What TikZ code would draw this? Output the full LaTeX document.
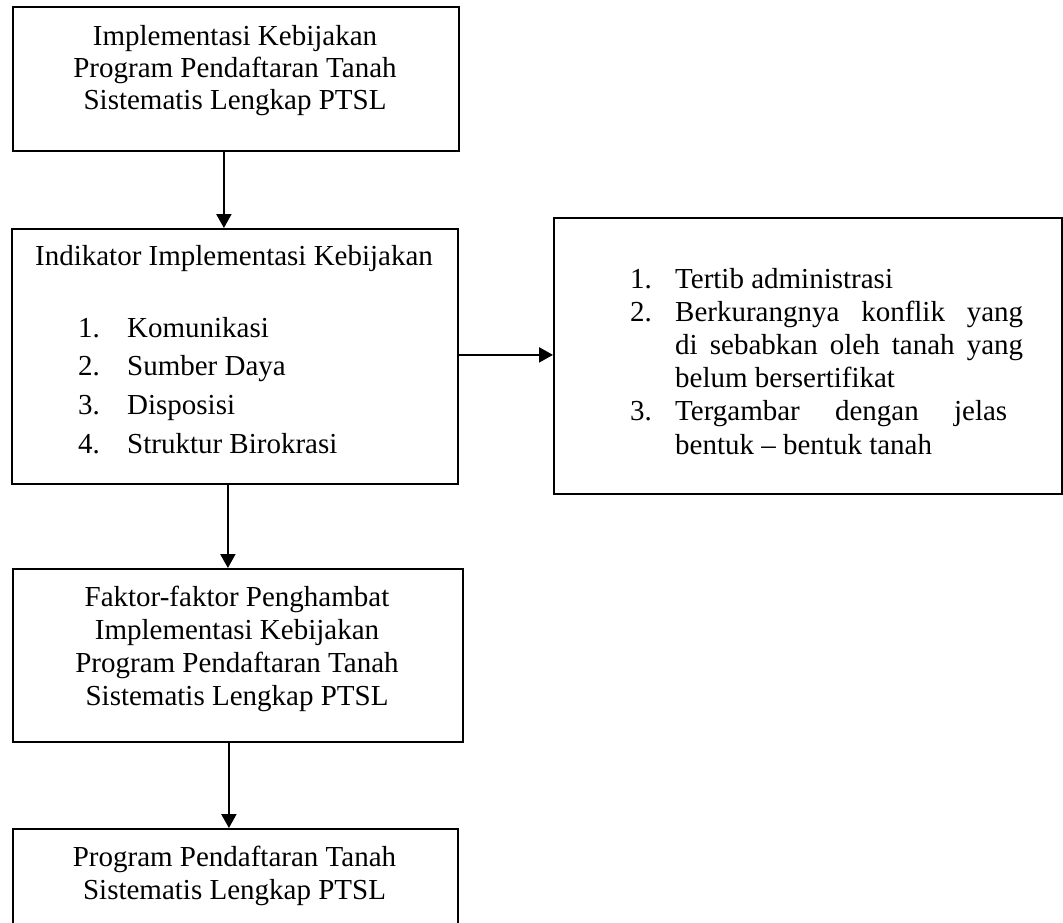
\documentclass[tikz,border=0pt]{standalone}
\usepackage{fontspec}
\setmainfont{Liberation Serif}
\usetikzlibrary{arrows.meta}
\begin{document}
\begin{tikzpicture}[x=1pt,y=1pt,
  boxs/.style={draw, line width=1.8pt, inner sep=0pt, anchor=north west},
  txt/.style={inner sep=0pt, anchor=base, font=\fontsize{29}{33}\selectfont},
  arr/.style={line width=2.2pt, -{Triangle[length=14pt,width=15pt]}}]
\clip (0,0) rectangle (1063,-922);
\fill[white] (0,0) rectangle (1063,-922);
% boxes
\node[boxs, minimum width=446pt, minimum height=144pt] (b1) at (12,-6) {};
\node[boxs, minimum width=446pt, minimum height=255pt] (b2) at (11,-228) {};
\node[boxs, minimum width=508pt, minimum height=276pt] (b3) at (553,-217) {};
\node[boxs, minimum width=450pt, minimum height=173pt] (b4) at (12,-568) {};
\node[boxs, minimum width=445pt, minimum height=130pt] (b5) at (12,-828) {};
% texts
\node[txt] (t1) at (235,-45) {\parbox[t]{440pt}{\fontsize{29}{32}\selectfont\centering
  Implementasi Kebijakan\\Program Pendaftaran Tanah\\Sistematis Lengkap PTSL}};
\node[txt] (t2) at (234,-265) {Indikator Implementasi Kebijakan};
\node[txt, anchor=base west] (t2l) at (78,-337) {\parbox[t]{340pt}{\fontsize{29}{38.7}\selectfont\raggedright
  \makebox[49pt][l]{1.}Komunikasi\\
  \makebox[49pt][l]{2.}Sumber Daya\\
  \makebox[49pt][l]{3.}Disposisi\\
  \makebox[49pt][l]{4.}Struktur Birokrasi}};
\node[txt, anchor=base west] (t3) at (630,-288) {\parbox[t]{410pt}{\fontsize{29}{33.2}\selectfont\raggedright
  \makebox[45pt][l]{1.}Tertib administrasi\\
  \makebox[45pt][l]{2.}\makebox[348pt][s]{Berkurangnya konflik yang}\\
  \hspace*{45pt}\makebox[348pt][s]{di sebabkan oleh tanah yang}\\
  \hspace*{45pt}belum bersertifikat\\
  \makebox[45pt][l]{3.}\makebox[332pt][s]{Tergambar dengan jelas}\\
  \hspace*{45pt}bentuk – bentuk tanah}};
\node[txt] (t4) at (237,-606) {\parbox[t]{440pt}{\fontsize{29}{33.3}\selectfont\centering
  Faktor-faktor Penghambat\\Implementasi Kebijakan\\Program Pendaftaran Tanah\\Sistematis Lengkap PTSL}};
\node[txt] (t5) at (234.5,-866) {\parbox[t]{440pt}{\fontsize{29}{33}\selectfont\centering
  Program Pendaftaran Tanah\\Sistematis Lengkap PTSL}};
% connectors
\draw[arr] ([xshift=-12pt]b1.south) -- ([xshift=-12pt]b1.south |- b2.north);
\draw[arr] ([yshift=1.5pt]b2.east) -- ([yshift=1.5pt]b2.east -| b3.west);
\draw[arr] ([xshift=-7pt]b2.south) -- ([xshift=-7pt]b2.south |- b4.north);
\draw[arr] ([xshift=-9pt]b4.south) -- ([xshift=-9pt]b4.south |- b5.north);
\end{tikzpicture}
\end{document}
